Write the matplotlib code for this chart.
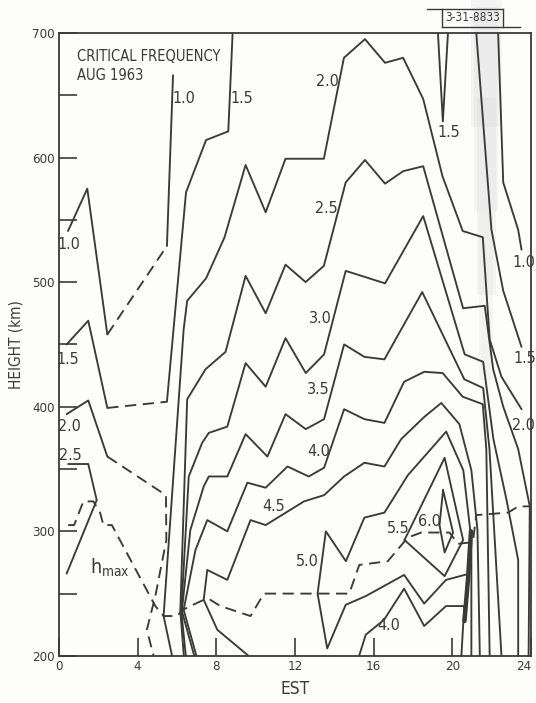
import matplotlib.pyplot as plt
from matplotlib import font_manager
from matplotlib.patches import Rectangle
from matplotlib.lines import Line2D

# isolines of critical frequency (MHz): time in EST hours, height in km
c10_night_t = [0.46, 1.44, 2.46]
c10_night_h = [541, 575, 458]
c10_gap_t = [2.46, 5.49]
c10_gap_h = [458, 529]
c10_rise_t = [5.49, 5.80]
c10_rise_h = [529, 666]
c10_eve_t = [22.33, 22.59, 23.35, 23.52]
c10_eve_h = [700, 580, 542, 526]

c15_night_t = [0.39, 1.49, 2.46]
c15_night_h = [450, 469, 399]
c15_gap_t = [2.46, 5.49]
c15_gap_h = [399, 404]
c15_rise_t = [5.49, 6.46, 7.48, 8.61, 8.83]
c15_rise_h = [404, 572, 614, 621, 700]
c15_tip_t = [19.27, 19.52, 19.78]
c15_tip_h = [700, 629, 700]
c15_eve_t = [21.22, 21.99, 22.59, 23.52]
c15_eve_h = [700, 542, 493, 448]

c20_night_t = [0.39, 1.49, 2.46]
c20_night_h = [394, 405, 360]
c20_gap_t = [2.46, 5.44, 5.46, 4.90, 4.47, 4.81]
c20_gap_h = [360, 329, 293, 248, 221, 200]
c20_day_t = [5.75, 5.32, 6.34, 6.52, 7.48, 8.42, 9.49, 10.51, 11.52, 13.47, 14.49,
             15.56, 16.58, 17.5, 18.52, 19.5, 20.53, 21.55, 21.9, 22.5, 23.52]
c20_day_h = [200, 232, 462, 485, 503, 536, 594, 556, 599, 599, 680,
             695, 676, 680, 647, 585, 541, 536, 454, 424, 398]

c25_night_t = [0.47, 1.49, 1.92, 0.39]
c25_night_h = [354, 354, 325, 266]
c25_day_t = [6.35, 6.17, 6.52, 7.45, 8.47, 9.49, 10.51, 11.52, 12.54, 13.47, 14.58,
             15.56, 16.58, 17.5, 18.52, 20.55, 21.65, 22.08, 22.59, 23.35, 23.94, 23.88]
c25_day_h = [200, 236, 406, 430, 444, 505, 475, 514, 500, 513, 580,
             598, 579, 589, 593, 479, 481, 430, 400, 366, 320, 200]

c30_t = [6.45, 6.22, 6.6, 7.28, 7.62, 8.56, 9.49, 10.51, 11.52, 12.55, 13.48,
         14.58, 16.58, 18.52, 20.63, 21.57, 22.09, 22.76, 23.35, 23.35]
c30_h = [200, 236, 344, 371, 379, 384, 435, 416, 455, 427, 442,
         509, 499, 553, 442, 436, 374, 325, 277, 200]

c35_t = [6.88, 6.25, 6.68, 7.36, 7.62, 8.56, 9.49, 10.6, 11.52, 12.55, 13.48,
         14.5, 15.53, 16.55, 17.4, 18.47, 20.61, 21.57, 21.89, 22.5]
c35_h = [200, 236, 301, 336, 344, 344, 378, 360, 394, 382, 390,
         450, 440, 438, 462, 492, 422, 415, 366, 200]

c40_t = [6.99, 6.34, 6.94, 7.54, 8.56, 9.58, 10.51, 11.62, 12.7, 13.48, 14.5,
         15.53, 16.55, 17.55, 18.57, 19.51, 20.53, 21.55, 21.73, 21.9]
c40_h = [200, 237, 285, 309, 300, 339, 335, 352, 344, 351, 398,
         390, 387, 420, 428, 427, 408, 402, 366, 200]
c40_low_t = [15.26, 15.6, 16.53, 17.55, 18.57, 19.68, 20.61, 20.46]
c40_low_h = [200, 217, 229, 254, 224, 240, 240, 200]

c45_t = [9.64, 8.05, 7.36, 7.54, 8.56, 9.74, 10.51, 12.46, 13.48, 14.5, 15.53,
         16.55, 17.4, 18.59, 19.44, 20.36, 20.97, 21.28, 21.4]
c45_h = [200, 221, 245, 269, 261, 309, 305, 324, 329, 344, 355,
         352, 374, 392, 403, 386, 349, 301, 200]

c50_t = [20.97, 20.97, 20.56, 19.69, 17.74, 16.55, 15.53, 14.59, 13.57, 13.15,
         13.64, 14.58, 15.6, 17.55, 18.57, 19.68, 20.87]
c50_h = [200, 293, 349, 380, 345, 315, 311, 276, 300, 250,
         206, 241, 248, 265, 242, 261, 266]

c55_t = [17.57, 19.61, 20.55, 19.61, 17.57]
c55_h = [293, 359, 293, 264, 293]

c60_t = [19.53, 20.04, 19.61, 19.35, 19.53]
c60_h = [333, 299, 283, 305, 333]

# where the evening isolines crowd together
crowd_t = [20.95, 20.8, 20.62]
crowd_h = [300, 262, 228]

# height of the layer peak
hmax_t = [0.47, 0.77, 1.24, 1.75, 2.09, 2.26, 2.69, 2.86, 4.9, 5.32, 6.0, 6.31,
          6.68, 7.36, 7.7, 8.21, 9.74, 10.42, 14.76, 15.27, 16.72, 17.74, 18.42,
          19.86, 20.29, 20.88, 21.06, 21.22, 22.84, 23.35, 23.94]
hmax_h = [305, 305, 324, 324, 315, 305, 305, 300, 240, 232, 232, 237,
          240, 245, 245, 240, 232, 250, 250, 273, 276, 295, 299,
          299, 290, 291, 293, 313, 315, 320, 320]

# contour value labels
lab_text = ['1.0', '1.5', '2.0', '2.5', '1.0', '1.5', '2.0', '2.5', '3.0', '3.5',
            '4.0', '4.5', '5.0', '5.5', '6.0', '4.0', '1.5', '1.0', '1.5', '2.0']
lab_t = [0.51, 0.46, 0.51, 0.56, 6.35, 9.29, 13.67, 13.6, 13.29, 13.16,
         13.19, 10.89, 12.65, 17.24, 18.83, 16.79, 19.82, 23.65, 23.67, 23.6]
lab_h = [530, 438, 384, 361, 647, 647, 661, 559, 471, 414,
         364, 320, 276, 302, 308, 224, 620, 516, 439, 385]

x_ticks = [0, 4, 8, 12, 16, 20, 24]
y_ticks = list(range(200, 701, 50))
y_labels = [str(v) if v % 100 == 0 else '' for v in y_ticks]

# narrowest sans available for the lettering
fonts = font_manager.fontManager.ttflist
names = {f.name for f in fonts}
stretch = 'normal'
if 'Liberation Sans Narrow' in names:
    face = 'Liberation Sans Narrow'
elif any(f.name == 'DejaVu Sans' and f.stretch == 'condensed' for f in fonts):
    face, stretch = 'DejaVu Sans', 'condensed'
elif 'Roboto Condensed' in names:
    face = 'Roboto Condensed'
else:
    face = 'Roboto'
plt.rcParams['font.family'] = [face, 'DejaVu Sans']
plt.rcParams['font.stretch'] = stretch
plt.rcParams['mathtext.fontset'] = 'custom'
plt.rcParams['mathtext.rm'] = face

ink = '#3a3a3a'

fig = plt.figure(figsize=(5.36, 7.03), dpi=100)
fig.patch.set_facecolor('#fdfdfc')

# faint grey smear running down from the top right
for x0, w, y0, y1, a in [(0.878, 0.058, 0.82, 1.0, 0.14), (0.884, 0.046, 0.70, 0.99, 0.16),
                          (0.889, 0.036, 0.58, 0.86, 0.15), (0.894, 0.026, 0.46, 0.70, 0.12),
                          (0.898, 0.018, 0.38, 0.56, 0.08)]:
    fig.add_artist(Rectangle((x0, y0), w, y1 - y0, transform=fig.transFigure,
                             facecolor='#c4c4c4', edgecolor='none', alpha=a, zorder=-5))

ax = fig.add_axes([0.110, 0.067, 0.8806, 0.8862])
ax.patch.set_alpha(0)

solid = dict(color=ink, lw=1.35, solid_joinstyle='round', solid_capstyle='round')
dashed = dict(color=ink, lw=1.35, ls=(0, (6, 3.5)))

for t, h in [(c10_night_t, c10_night_h), (c10_rise_t, c10_rise_h), (c10_eve_t, c10_eve_h),
             (c15_night_t, c15_night_h), (c15_rise_t, c15_rise_h), (c15_tip_t, c15_tip_h),
             (c15_eve_t, c15_eve_h), (c20_night_t, c20_night_h), (c20_day_t, c20_day_h),
             (c25_night_t, c25_night_h), (c25_day_t, c25_day_h), (c30_t, c30_h),
             (c35_t, c35_h), (c40_t, c40_h), (c40_low_t, c40_low_h), (c45_t, c45_h),
             (c50_t, c50_h), (c55_t, c55_h), (c60_t, c60_h)]:
    ax.plot(t, h, **solid)
ax.plot(crowd_t, crowd_h, color=ink, lw=3.2, solid_capstyle='round')

for t, h in [(c10_gap_t, c10_gap_h), (c15_gap_t, c15_gap_h), (c20_gap_t, c20_gap_h),
             (hmax_t, hmax_h)]:
    ax.plot(t, h, **dashed)

for s, t, h in zip(lab_text, lab_t, lab_h):
    ax.text(t, h, s, ha='center', va='center', fontsize=11.5, color=ink)

ax.text(2.6, 271, r'h$_{\mathrm{max}}$', ha='center', va='center', fontsize=14, color=ink)
ax.text(0.9, 687, 'CRITICAL FREQUENCY\nAUG 1963', ha='left', va='top',
        fontsize=10.5, color=ink, linespacing=1.3, fontweight='medium')

ax.set_xlim(0, 24)
ax.set_ylim(200, 700)
ax.set_xticks(x_ticks)
ax.set_yticks(y_ticks)
ax.set_yticklabels(y_labels)
ax.tick_params(direction='in', length=13, width=1.2, color=ink, labelcolor=ink,
               labelsize=9.5, pad=3)
ax.get_xticklabels()[-1].set_horizontalalignment('right')
for sp in ax.spines.values():
    sp.set_color(ink)
    sp.set_linewidth(1.3)

ax.set_xlabel('EST', fontsize=12.5, color=ink, labelpad=5)
ax.set_ylabel('HEIGHT (km)', fontsize=11, color=ink, labelpad=6)

# drawing number tag above the frame
fig.text(0.8815, 0.9745, '3-31-8833', ha='center', va='center', fontsize=8.5, color=ink)
fig.add_artist(Line2D([0.796, 0.939], [0.9865, 0.9865], color=ink, lw=1.0))
fig.add_artist(Line2D([0.824, 0.970], [0.962, 0.962], color=ink, lw=1.0))
fig.add_artist(Line2D([0.824, 0.824], [0.962, 0.9865], color=ink, lw=1.0))
fig.add_artist(Line2D([0.939, 0.939], [0.962, 0.9865], color=ink, lw=1.0))

fig.savefig('out.png', dpi=100, facecolor=fig.get_facecolor())
